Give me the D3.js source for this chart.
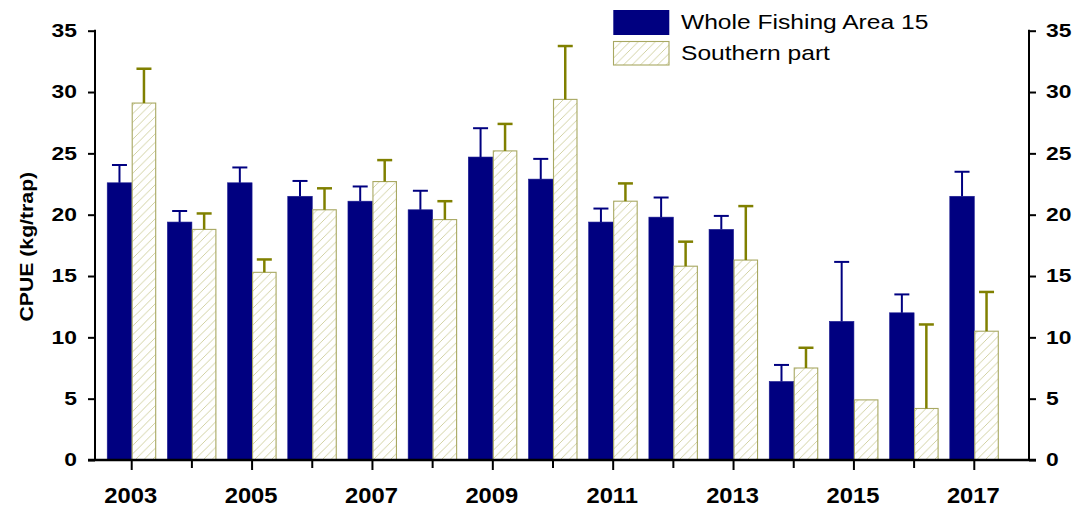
<!DOCTYPE html>
<html>
<head>
<meta charset="utf-8">
<script src="https://cdn.jsdelivr.net/npm/d3@7"></script>
<style>
  html, body { margin: 0; padding: 0; background: #fff; }
  svg { display: block; font-family: "Liberation Sans", Arial, sans-serif; }
</style>
</head>
<body>
<svg id="chart" width="1084" height="512"></svg>
<script>
// CPUE by year, whole fishing area vs southern part (mean and upper error)
const years = [2003, 2004, 2005, 2006, 2007, 2008, 2009, 2010, 2011, 2012, 2013, 2014, 2015, 2016, 2017];
const wholeArea = [22.6, 19.4, 22.6, 21.5, 21.1, 20.4, 24.7, 22.9, 19.4, 19.8, 18.8, 6.4, 11.3, 12.0, 21.5];
const wholeAreaErr = [1.45, 0.9, 1.25, 1.25, 1.2, 1.55, 2.35, 1.65, 1.1, 1.6, 1.1, 1.35, 4.85, 1.5, 2.0];
const southern = [29.1, 18.8, 15.3, 20.4, 22.7, 19.6, 25.2, 29.4, 21.1, 15.8, 16.3, 7.5, 4.9, 4.2, 10.5];
const southernErr = [2.8, 1.3, 1.05, 1.75, 1.75, 1.5, 2.2, 4.35, 1.45, 2.0, 4.4, 1.65, null, 6.85, 3.2];
const yTicks = [0, 5, 10, 15, 20, 25, 30, 35];
const xLabelYears = [2003, 2005, 2007, 2009, 2011, 2013, 2015, 2017];
const seriesNames = ["Whole Fishing Area 15", "Southern part"];
const yTitle = "CPUE (kg/trap)";

const navy = "#000080";
const olive = "#808000";

const svg = d3.select("#chart");
const plot = { left: 95, right: 1029, top: 30.7, bottom: 460 };

const y = d3.scaleLinear().domain([0, 35]).range([plot.bottom, plot.top]);
const x = d3.scaleBand().domain(years).range([plot.left, 1011]).paddingInner(0.186).paddingOuter(0.203);
const sub = d3.scaleBand().domain([0, 1]).range([0, x.bandwidth()]);

// hatch pattern for the southern series
const defs = svg.append("defs");
const pat = defs.append("pattern")
  .attr("id", "hatch").attr("patternUnits", "userSpaceOnUse")
  .attr("width", 8.5).attr("height", 8.5);
pat.append("rect").attr("width", 8.5).attr("height", 8.5).attr("fill", "#fff");
pat.append("path").attr("d", "M-2,2 L2,-2 M0,8.5 L8.5,0 M6.5,10.5 L10.5,6.5")
  .attr("stroke", "#c2c285").attr("stroke-width", 0.75);

// stretched text helper
function stretchedText(g, px, py, txt, sx, opts) {
  const t = g.append("text")
    .attr("transform", `translate(${px},${py}) ${opts.rotate ? "rotate(" + opts.rotate + ")" : ""} scale(${sx},1)`)
    .attr("text-anchor", opts.anchor || "start")
    .attr("font-size", opts.size)
    .attr("font-weight", opts.weight || "normal")
    .attr("fill", "#000")
    .text(txt);
  return t;
}

// bars
const barsG = svg.append("g");
years.forEach((yr, i) => {
  const x0 = x(yr);
  barsG.append("rect")
    .attr("x", x0 + sub(0)).attr("width", sub.bandwidth())
    .attr("y", y(wholeArea[i])).attr("height", y(0) - y(wholeArea[i]))
    .attr("fill", navy).attr("stroke", "#1a1a90").attr("stroke-width", 0.6);
  barsG.append("rect")
    .attr("x", x0 + sub(1) + 0.5).attr("width", sub.bandwidth() - 1)
    .attr("y", y(southern[i])).attr("height", y(0) - y(southern[i]))
    .attr("fill", "url(#hatch)").attr("stroke", "#a8a862").attr("stroke-width", 1.1);
});

// upper error bars
function errBar(cx, v, e, color, w) {
  if (e == null) return;
  barsG.append("line").attr("x1", cx).attr("x2", cx).attr("y1", y(v)).attr("y2", y(v + e))
    .attr("stroke", color).attr("stroke-width", w);
  barsG.append("line").attr("x1", cx - 7.5).attr("x2", cx + 7.5).attr("y1", y(v + e)).attr("y2", y(v + e))
    .attr("stroke", color).attr("stroke-width", w);
}
years.forEach((yr, i) => {
  const x0 = x(yr);
  errBar(x0 + sub(0) + sub.bandwidth() / 2, wholeArea[i], wholeAreaErr[i], navy, 2);
  errBar(x0 + sub(1) + sub.bandwidth() / 2, southern[i], southernErr[i], olive, 2.5);
});

// axes
const axG = svg.append("g").attr("stroke", "#000").attr("stroke-width", 2);
axG.append("line").attr("x1", plot.left).attr("x2", plot.left).attr("y1", y(35) - 1).attr("y2", plot.bottom + 1);
axG.append("line").attr("x1", plot.right).attr("x2", plot.right).attr("y1", y(35) - 1).attr("y2", plot.bottom + 1);
axG.append("line").attr("x1", plot.left - 7).attr("x2", plot.right + 7).attr("y1", plot.bottom).attr("y2", plot.bottom)
  .attr("stroke-width", 2.5);

const leftAxis = d3.axisLeft(y).tickValues(yTicks).tickSize(7).tickFormat("");
const rightAxis = d3.axisRight(y).tickValues(yTicks).tickSize(7).tickFormat("");
[svg.append("g").attr("transform", `translate(${plot.left},0)`).call(leftAxis),
 svg.append("g").attr("transform", `translate(${plot.right},0)`).call(rightAxis)].forEach(g => {
  g.select(".domain").remove();
  g.selectAll(".tick line").attr("stroke", "#000").attr("stroke-width", 2);
});

const bottomAxis = d3.axisBottom(x).tickSizeOuter(0).tickFormat("")
  .tickSize(10);
const bx = svg.append("g").attr("transform", `translate(0,${plot.bottom})`).call(bottomAxis);
bx.select(".domain").remove();
bx.selectAll(".tick line").attr("stroke", "#000").attr("stroke-width", 2)
  .attr("y2", d => xLabelYears.includes(d) ? 10 : 8);

// tick labels
const lab = svg.append("g");
yTicks.forEach(v => {
  stretchedText(lab, 77, y(v) + 6.2, v, 1.27, { anchor: "end", size: 18, weight: "bold" });
  stretchedText(lab, 1046, y(v) + 6.2, v, 1.27, { anchor: "start", size: 18, weight: "bold" });
});
xLabelYears.forEach(yr => {
  stretchedText(lab, x(yr) + x.bandwidth() / 2 - 1, 502.7, yr, 1.08, { anchor: "middle", size: 22, weight: "bold" });
});

// y axis title
stretchedText(lab, 33, 246.7, yTitle, 1.18, { anchor: "middle", size: 18, weight: "bold", rotate: -90 });

// legend
const lg = svg.append("g");
lg.append("rect").attr("x", 613.3).attr("y", 10).attr("width", 56).attr("height", 25).attr("fill", navy);
lg.append("rect").attr("x", 613.5).attr("y", 41.5).attr("width", 55.5).attr("height", 23.5)
  .attr("fill", "url(#hatch)").attr("stroke", "#a8a862").attr("stroke-width", 1.1);
stretchedText(lg, 681, 28.8, seriesNames[0], 1.2, { size: 20.5 });
stretchedText(lg, 681, 60, seriesNames[1], 1.2, { size: 20.5 });
</script>
</body>
</html>
